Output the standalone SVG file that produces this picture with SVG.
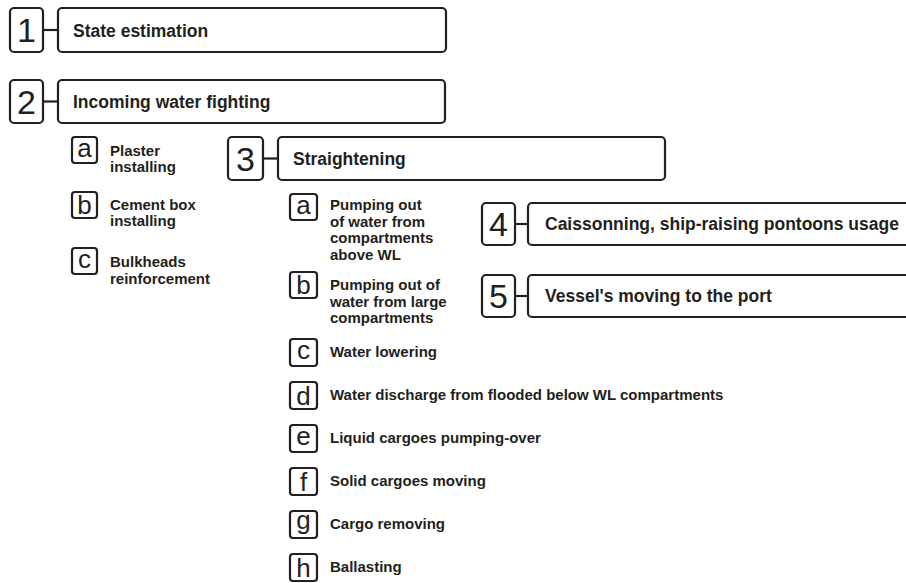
<svg xmlns="http://www.w3.org/2000/svg" width="906" height="583" viewBox="0 0 906 583">
<style>
.bx{fill:#fff;stroke:#231f20;stroke-width:2.2}
.ln{stroke:#231f20;stroke-width:2.2;fill:none}
.num{font-family:"Liberation Sans",Arial,sans-serif;font-size:34px;fill:#231f20;text-anchor:middle}
.let{font-family:"Liberation Sans",Arial,sans-serif;font-size:26px;fill:#231f20;text-anchor:middle}
.hd{font-family:"Liberation Sans",Arial,sans-serif;font-size:17.5px;font-weight:bold;fill:#231f20}
.it{font-family:"Liberation Sans",Arial,sans-serif;font-size:15px;font-weight:bold;fill:#231f20}
</style>
<rect width="906" height="583" fill="#fff"/>
<g id="connectors">
<line class="ln" x1="43" y1="30" x2="58" y2="30"/>
<line class="ln" x1="43" y1="101.5" x2="58" y2="101.5"/>
<line class="ln" x1="263" y1="158.5" x2="278" y2="158.5"/>
<line class="ln" x1="515" y1="224" x2="528" y2="224"/>
<line class="ln" x1="515" y1="296" x2="528" y2="296"/>
</g>
<g id="step1">
<rect class="bx" x="10" y="8" width="33" height="44" rx="4"/>
<text class="num" x="26.5" y="42">1</text>
<rect class="bx" x="58" y="8" width="388" height="44" rx="4"/>
<text class="hd" x="73" y="36.5">State estimation</text>
</g>
<g id="step2">
<rect class="bx" x="10" y="80" width="33" height="43" rx="4"/>
<text class="num" x="26.5" y="113.5">2</text>
<rect class="bx" x="58" y="80" width="387" height="43" rx="4"/>
<text class="hd" x="73" y="108">Incoming water fighting</text>
</g>
<g id="step2a">
<rect class="bx" x="72" y="137" width="25" height="26" rx="3"/>
<text class="let" x="84.5" y="156.8">a</text>
<text class="it" x="110" y="156">Plaster</text>
<text class="it" x="110" y="172">installing</text>
</g>
<g id="step2b">
<rect class="bx" x="72" y="192" width="25" height="26" rx="3"/>
<text class="let" x="84.5" y="214.3">b</text>
<text class="it" x="110" y="210">Cement box</text>
<text class="it" x="110" y="226">installing</text>
</g>
<g id="step2c">
<rect class="bx" x="72" y="248" width="25" height="26" rx="3"/>
<text class="let" x="84.5" y="267.8">c</text>
<text class="it" x="110" y="267">Bulkheads</text>
<text class="it" x="110" y="284">reinforcement</text>
</g>
<g id="step3">
<rect class="bx" x="228" y="137" width="35" height="43" rx="4"/>
<text class="num" x="245.5" y="170.5">3</text>
<rect class="bx" x="278" y="137" width="387" height="43" rx="4"/>
<text class="hd" x="293" y="165">Straightening</text>
</g>
<g id="step3a">
<rect class="bx" x="290" y="194" width="27" height="26" rx="3"/>
<text class="let" x="303.5" y="213.8">a</text>
<text class="it" x="330" y="210">Pumping out</text>
<text class="it" x="330" y="226.5">of water from</text>
<text class="it" x="330" y="243">compartments</text>
<text class="it" x="330" y="259.5">above WL</text>
</g>
<g id="step3b">
<rect class="bx" x="290" y="272" width="27" height="26" rx="3"/>
<text class="let" x="303.5" y="294.3">b</text>
<text class="it" x="330" y="290">Pumping out of</text>
<text class="it" x="330" y="306.5">water from large</text>
<text class="it" x="330" y="323">compartments</text>
</g>
<g id="step3c">
<rect class="bx" x="290" y="339" width="27" height="27" rx="3"/>
<text class="let" x="303.5" y="359.3">c</text>
<text class="it" x="330" y="357">Water lowering</text>
</g>
<g id="step3d">
<rect class="bx" x="290" y="382" width="27" height="27" rx="3"/>
<text class="let" x="303.5" y="404.8">d</text>
<text class="it" x="330" y="400">Water discharge from flooded below WL compartments</text>
</g>
<g id="step3e">
<rect class="bx" x="290" y="425" width="27" height="27" rx="3"/>
<text class="let" x="303.5" y="445.3">e</text>
<text class="it" x="330" y="443">Liquid cargoes pumping-over</text>
</g>
<g id="step3f">
<rect class="bx" x="290" y="468" width="27" height="27" rx="3"/>
<text class="let" x="303.5" y="490.8">f</text>
<text class="it" x="330" y="486">Solid cargoes moving</text>
</g>
<g id="step3g">
<rect class="bx" x="290" y="511" width="27" height="27" rx="3"/>
<text class="let" x="303.5" y="528.5">g</text>
<text class="it" x="330" y="529">Cargo removing</text>
</g>
<g id="step3h">
<rect class="bx" x="290" y="554" width="27" height="27" rx="3"/>
<text class="let" x="303.5" y="576.8">h</text>
<text class="it" x="330" y="572">Ballasting</text>
</g>
<g id="step4">
<rect class="bx" x="482" y="203" width="33" height="42" rx="4"/>
<text class="num" x="498.5" y="236">4</text>
<rect class="bx" x="528" y="203" width="400" height="42" rx="4"/>
<text class="hd" x="545" y="230">Caissonning, ship-raising pontoons usage</text>
</g>
<g id="step5">
<rect class="bx" x="482" y="275" width="33" height="42" rx="4"/>
<text class="num" x="498.5" y="308">5</text>
<rect class="bx" x="528" y="275" width="400" height="42" rx="4"/>
<text class="hd" x="545" y="302">Vessel's moving to the port</text>
</g>
</svg>
